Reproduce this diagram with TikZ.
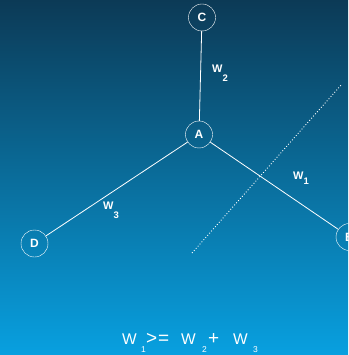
\documentclass[tikz,border=0pt]{standalone}
\usepackage{fontspec}
\setmainfont{Liberation Sans}
\usepackage{tikz}
\definecolor{deepsea}{RGB}{12,58,86}
\definecolor{shallow}{RGB}{8,160,224}
% weight with a dropped index
\newcommand{\wt}[2][8pt]{W\raisebox{-#1}{\fontsize{9.5}{9.5}\selectfont #2}}
\newcommand{\wsub}[1]{\raisebox{-8pt}{\fontsize{8.5}{8.5}\selectfont #1}}
\newcommand{\bigop}[1]{{\fontsize{19}{19}\selectfont #1}}

\begin{document}
\begin{tikzpicture}[x=1pt,y=-1pt,
  vertex/.style={draw=white,circle,minimum size=27pt,inner sep=0pt,text=white,
    font=\fontsize{12}{12}\selectfont\bfseries},
  edge/.style={white,line width=0.8pt},
  cut/.style={white,dotted,line width=0.9pt},
  weight/.style={text=white,inner sep=0pt,anchor=base west,
    font=\fontsize{11}{11}\selectfont\bfseries}]
 \shade[top color=deepsea,bottom color=shallow] (0,0) rectangle (348,355);
 \useasboundingbox (0,0) rectangle (348,355);
 \clip (0,0) rectangle (348,355);
 % graph
 \node[vertex] (C) at (202,17.5){C};
 \node[vertex] (A) at (199,134.5){A};
 \node[vertex] (D) at (34.5,243.5){D};
 \node[vertex] (B) at (349.5,237){B};
 \draw[edge] (C)--(A);
 \draw[edge] (A)--(D);
 \draw[edge] (A)--(B);
 \node[weight] (w2) at (212,73){\wt[9pt]{2}};
 \node[weight] (w1) at (293,179){\wt[5pt]{1}};
 \node[weight] (w3) at (103,209){\wt[9pt]{3}};
 % cut line
 \coordinate (cutlow) at (192,253);
 \coordinate (cuthigh) at (342,84);
 \draw[cut] (cutlow)--(cuthigh);
 \node[text=white,inner sep=0pt,anchor=base west,font=\fontsize{15.5}{15.5}\selectfont]
   (rule) at (122,344){\makebox[19pt][l]{W}\makebox[5pt][l]{\wsub{1}}%
   \makebox[12pt][l]{\bigop{>}}\makebox[23pt][l]{\bigop{=}}%
   \makebox[21pt][l]{W}\makebox[6pt][l]{\wsub{2}}\makebox[25pt][l]{\bigop{+}}%
   \makebox[20pt][l]{W}\wsub{3}};
\end{tikzpicture}
\end{document}
